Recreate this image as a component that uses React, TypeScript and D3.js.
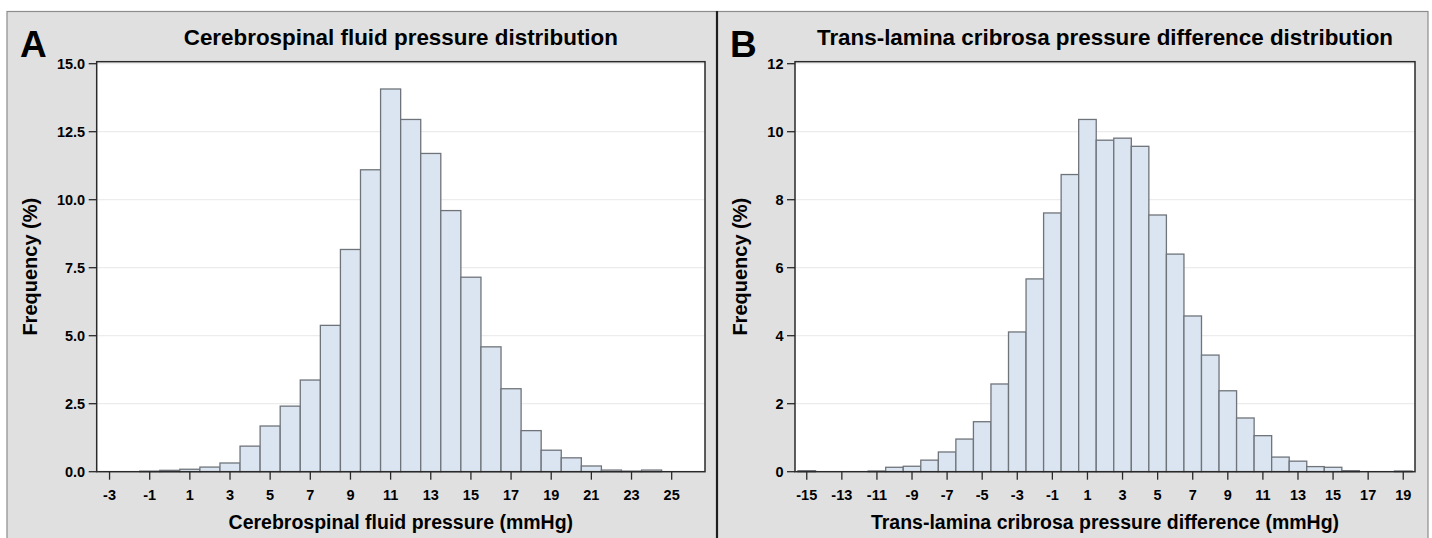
import React from "react";
import * as d3 from "d3";

// ---------- DATA ----------
const csfBins = [-3, -2, -1, 0, 1, 2, 3, 4, 5, 6, 7, 8, 9, 10, 11, 12, 13, 14, 15, 16, 17, 18, 19, 20, 21, 22, 23, 24, 25];
const csfFreq = [0, 0, 0.02, 0.05, 0.09, 0.17, 0.32, 0.94, 1.68, 2.41, 3.37, 5.38, 8.17, 11.1, 14.07, 12.95, 11.7, 9.6, 7.15, 4.59, 3.05, 1.51, 0.79, 0.51, 0.21, 0.06, 0.02, 0.06, 0];
const csfXTicks = [-3, -1, 1, 3, 5, 7, 9, 11, 13, 15, 17, 19, 21, 23, 25];
const csfYTicks = [0, 2.5, 5, 7.5, 10, 12.5, 15];

const tlcBins = [-15, -14, -13, -12, -11, -10, -9, -8, -7, -6, -5, -4, -3, -2, -1, 0, 1, 2, 3, 4, 5, 6, 7, 8, 9, 10, 11, 12, 13, 14, 15, 16, 17, 18, 19];
const tlcFreq = [0.03, 0, 0, 0, 0.02, 0.13, 0.16, 0.34, 0.58, 0.96, 1.47, 2.58, 4.11, 5.67, 7.61, 8.74, 10.36, 9.75, 9.81, 9.57, 7.55, 6.4, 4.58, 3.43, 2.38, 1.58, 1.06, 0.43, 0.31, 0.15, 0.13, 0.03, 0, 0, 0.02];
const tlcXTicks = [-15, -13, -11, -9, -7, -5, -3, -1, 1, 3, 5, 7, 9, 11, 13, 15, 17, 19];
const tlcYTicks = [0, 2, 4, 6, 8, 10, 12];

const FONT = "'Liberation Sans', Arial, Helvetica, sans-serif";

type PanelProps = {
  letter: string;
  title: string;
  xTitle: string;
  bins: number[];
  freq: number[];
  xTicks: number[];
  yTicks: number[];
  xDomain: [number, number];
  yMax: number;
  yFmt: (v: number) => string;
  left: number;
  right: number;
  offset: number;
};

function Panel(p: PanelProps) {
  const top = 61.7;
  const bottom = 471.7;
  const x = d3.scaleLinear().domain(p.xDomain).range([p.left, p.right]);
  const y = d3.scaleLinear().domain([0, p.yMax]).range([bottom, 63.7]);
  const cx = (p.left + p.right) / 2;
  const cy = (top + bottom) / 2;
  return (
    <g>
      <text x={p.offset + 20} y={57} fontFamily={FONT} fontWeight="bold" fontSize={37} fill="#000">
        {p.letter}
      </text>
      <text x={cx} y={44.5} textAnchor="middle" fontFamily={FONT} fontWeight="bold" fontSize={22.4} fill="#000">
        {p.title}
      </text>
      <rect x={p.left} y={top} width={p.right - p.left} height={bottom - top} fill="#fff" />
      {p.yTicks.map((t) =>
        t === 0 ? null : (
          <line key={"g" + t} x1={p.left} x2={p.right} y1={y(t)} y2={y(t)} stroke="#ececec" strokeWidth={1.2} />
        )
      )}
      {p.bins.map((b, i) =>
        p.freq[i] > 0 ? (
          <rect
            key={"b" + b}
            x={x(b - 0.5)}
            y={y(p.freq[i])}
            width={x(b + 0.5) - x(b - 0.5)}
            height={bottom - y(p.freq[i])}
            fill="#dbe5f1"
            stroke="#6f747a"
            strokeWidth={1.3}
          />
        ) : null
      )}
      <rect x={p.left} y={top} width={p.right - p.left} height={bottom - top} fill="none" stroke="#2a2a2a" strokeWidth={1.5} />
      {p.yTicks.map((t) => (
        <g key={"yt" + t}>
          <line x1={p.left - 8} x2={p.left} y1={y(t)} y2={y(t)} stroke="#2a2a2a" strokeWidth={1.3} />
          <text x={p.left - 11.5} y={y(t) + 5} textAnchor="end" fontFamily={FONT} fontWeight="bold" fontSize={14.5} fill="#000">
            {p.yFmt(t)}
          </text>
        </g>
      ))}
      {p.xTicks.map((t) => (
        <g key={"xt" + t}>
          <line x1={x(t)} x2={x(t)} y1={bottom} y2={bottom + 8} stroke="#2a2a2a" strokeWidth={1.3} />
          <text x={x(t)} y={500} textAnchor="middle" fontFamily={FONT} fontWeight="bold" fontSize={14.5} fill="#000">
            {String(t)}
          </text>
        </g>
      ))}
      <text x={cx} y={528.5} textAnchor="middle" fontFamily={FONT} fontWeight="bold" fontSize={19.5} fill="#000">
        {p.xTitle}
      </text>
      <text
        transform={`translate(${p.offset + 37},${cy}) rotate(-90)`}
        textAnchor="middle"
        fontFamily={FONT}
        fontWeight="bold"
        fontSize={20}
        fill="#000"
      >
        Frequency (%)
      </text>
    </g>
  );
}

export default function App() {
  const fmt1 = d3.format(".1f");
  const fmt0 = d3.format("d");
  return (
    <svg
      width={1432}
      height={538}
      style={{ position: "absolute", left: 0, top: 0, background: "#fff" }}
    >
      <rect x={7} y={11.5} width={1421} height={540} fill="#e0e0e0" stroke="#8c8c8c" strokeWidth={1.2} />
      <line x1={717} x2={717} y1={11} y2={538} stroke="#1e1e1e" strokeWidth={2.2} />
      <Panel
        letter="A"
        title="Cerebrospinal fluid pressure distribution"
        xTitle="Cerebrospinal fluid pressure (mmHg)"
        bins={csfBins}
        freq={csfFreq}
        xTicks={csfXTicks}
        yTicks={csfYTicks}
        xDomain={[-3.64, 26.66]}
        yMax={15}
        yFmt={fmt1}
        left={96.7}
        right={705}
        offset={0}
      />
      <Panel
        letter="B"
        title="Trans-lamina cribrosa pressure difference distribution"
        xTitle="Trans-lamina cribrosa pressure difference (mmHg)"
        bins={tlcBins}
        freq={tlcFreq}
        xTicks={tlcXTicks}
        yTicks={tlcYTicks}
        xDomain={[-15.67, 19.67]}
        yMax={12}
        yFmt={fmt0}
        left={795}
        right={1415}
        offset={710}
      />
    </svg>
  );
}
